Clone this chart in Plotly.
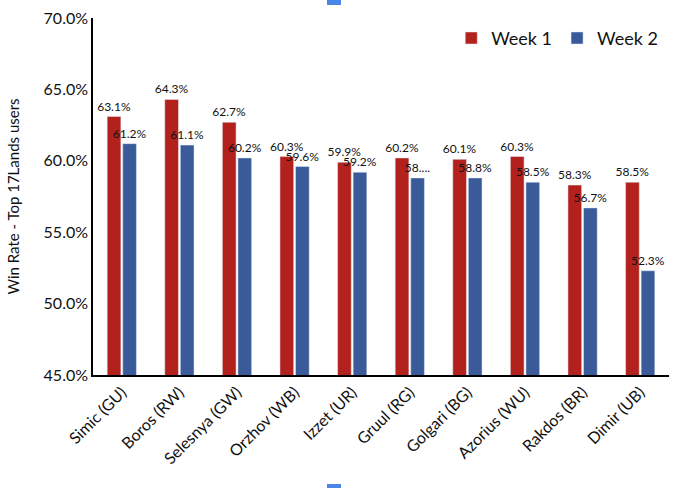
import plotly.graph_objects as go

categories = ["Simic (GU)", "Boros (RW)", "Selesnya (GW)", "Orzhov (WB)", "Izzet (UR)",
              "Gruul (RG)", "Golgari (BG)", "Azorius (WU)", "Rakdos (BR)", "Dimir (UB)"]
week1 = [0.631, 0.643, 0.627, 0.603, 0.599, 0.602, 0.601, 0.603, 0.583, 0.585]
week2 = [0.612, 0.611, 0.602, 0.596, 0.592, 0.588, 0.588, 0.585, 0.567, 0.523]
week1_labels = ["63.1%", "64.3%", "62.7%", "60.3%", "59.9%", "60.2%", "60.1%", "60.3%", "58.3%", "58.5%"]
week2_labels = ["61.2%", "61.1%", "60.2%", "59.6%", "59.2%", "58....", "58.8%", "58.5%", "56.7%", "52.3%"]

FONT = "Lato, 'Open Sans', sans-serif"
RED = "#B2211C"
BLUE = "#3A5A99"

fig = go.Figure()
fig.add_trace(go.Bar(name="Week 1", x=categories, y=week1, marker_color=RED,
                     text=week1_labels, textposition="outside", cliponaxis=False,
                     textfont=dict(size=12, color="#111", family=FONT)))
fig.add_trace(go.Bar(name="Week 2", x=categories, y=week2, marker_color=BLUE,
                     text=week2_labels, textposition="outside", cliponaxis=False,
                     textfont=dict(size=12, color="#111", family=FONT)))

fig.update_layout(
    width=680, height=488,
    margin=dict(l=93, r=11, t=18, b=113),
    paper_bgcolor="white", plot_bgcolor="white",
    barmode="group", bargap=0.46, bargroupgap=0.12,
    font=dict(family=FONT, color="#111"),
    showlegend=True,
    legend=dict(orientation="h", x=0.99, xanchor="right", y=0.995, yanchor="top",
                font=dict(size=18, family=FONT), bgcolor="rgba(0,0,0,0)",
                itemwidth=30, traceorder="normal", tracegroupgap=0),
    uniformtext=dict(minsize=8, mode="show"),
)
fig.update_yaxes(range=[0.45, 0.70], dtick=0.05, tickformat=".1%", showgrid=False,
                 showline=True, linecolor="black", linewidth=1.5, ticks="", automargin=False,
                 tickfont=dict(size=16, family=FONT), zeroline=False,
                 title=dict(text="Win Rate - Top 17Lands users", font=dict(size=15, family=FONT), standoff=20))
fig.update_xaxes(showgrid=False, showline=True, linecolor="black", linewidth=1.5, ticks="",
                 automargin=False, tickangle=-45, tickfont=dict(size=16, family=FONT))

# selection handles seen at the top and bottom of the screenshot
fig.add_shape(type="rect", xref="paper", yref="paper", x0=(327-93)/576, x1=(341-93)/576,
              y0=(375-5)/357, y1=(375+1)/357, fillcolor="#4A86E8", line_width=0)
fig.add_shape(type="rect", xref="paper", yref="paper", x0=(327-93)/576, x1=(341-93)/576,
              y0=-(484-375)/357, y1=-(492-375)/357, fillcolor="#4A86E8", line_width=0)

fig.write_html("out.html", config={"displayModeBar": False},
               post_script="document.body.style.margin='0';document.body.style.padding='0';")
